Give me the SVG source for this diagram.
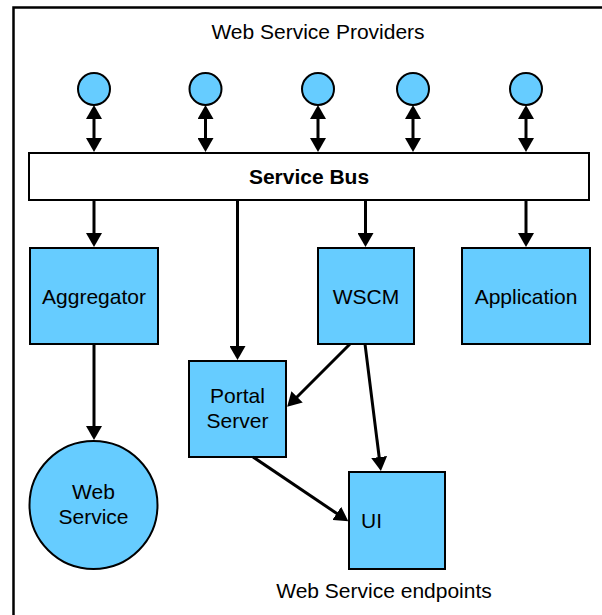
<svg xmlns="http://www.w3.org/2000/svg" width="602" height="615" viewBox="0 0 602 615">
  <style>
    .label { font-family: "Liberation Sans", Arial, sans-serif; font-size: 21px; fill: #000; text-anchor: middle; }
    .bold { font-weight: bold; }
    .node { fill: #66CCFF; stroke: #000; stroke-width: 2; }
    .bus { fill: #fff; stroke: #000; stroke-width: 2; }
    .edge { fill: none; stroke: #000; stroke-width: 3; }
  </style>
  <defs>
    <marker id="head" markerUnits="userSpaceOnUse" markerWidth="15" markerHeight="16" refX="10" refY="8" orient="auto-start-reverse" viewBox="0 0 15 16">
      <path d="M0,0 L14,8 L0,16 Z" fill="#000"/>
    </marker>
  </defs>

  <rect x="0" y="0" width="602" height="615" fill="#fff"/>

  <!-- outer frame, continues past the right and bottom edges -->
  <rect x="13.5" y="7.5" width="700" height="700" fill="none" stroke="#000" stroke-width="2.5"/>
  <text class="label" x="318" y="39">Web Service Providers</text>

  <!-- providers -->
  <g id="provider-1"><circle class="node" cx="94" cy="89" r="16"/></g>
  <g id="provider-2"><circle class="node" cx="205.5" cy="89" r="16"/></g>
  <g id="provider-3"><circle class="node" cx="318" cy="89" r="16"/></g>
  <g id="provider-4"><circle class="node" cx="413" cy="89" r="16"/></g>
  <g id="provider-5"><circle class="node" cx="526" cy="89" r="16"/></g>

  <g id="service-bus">
    <rect class="bus" x="29" y="153" width="560" height="47"/>
    <text class="label bold" x="309" y="184">Service Bus</text>
  </g>

  <g id="aggregator">
    <rect class="node" x="30" y="248" width="128" height="96"/>
    <text class="label" x="94" y="304">Aggregator</text>
  </g>
  <g id="wscm">
    <rect class="node" x="318" y="248" width="96" height="96"/>
    <text class="label" x="366" y="304">WSCM</text>
  </g>
  <g id="application">
    <rect class="node" x="462" y="248" width="128" height="96"/>
    <text class="label" x="526" y="304">Application</text>
  </g>
  <g id="portal-server">
    <rect class="node" x="189" y="361" width="97" height="96"/>
    <text class="label" x="237.5" y="403">Portal</text>
    <text class="label" x="237.5" y="428">Server</text>
  </g>
  <g id="ui">
    <rect class="node" x="349" y="472" width="96" height="97"/>
    <text class="label" x="361" y="528" style="text-anchor:start">UI</text>
  </g>
  <g id="web-service">
    <circle class="node" cx="93.5" cy="505" r="64"/>
    <text class="label" x="93.5" y="499">Web</text>
    <text class="label" x="93.5" y="524">Service</text>
  </g>

  <text class="label" x="384" y="598">Web Service endpoints</text>

  <g id="connectors">
    <!-- provider to bus, both directions -->
    <line class="edge" x1="94" y1="109" x2="94" y2="148" marker-start="url(#head)" marker-end="url(#head)"/>
    <line class="edge" x1="205.5" y1="109" x2="205.5" y2="148" marker-start="url(#head)" marker-end="url(#head)"/>
    <line class="edge" x1="318" y1="109" x2="318" y2="148" marker-start="url(#head)" marker-end="url(#head)"/>
    <line class="edge" x1="413" y1="109" x2="413" y2="148" marker-start="url(#head)" marker-end="url(#head)"/>
    <line class="edge" x1="526" y1="109" x2="526" y2="148" marker-start="url(#head)" marker-end="url(#head)"/>
    <!-- bus to consumers -->
    <line class="edge" x1="94" y1="200" x2="94" y2="243" marker-end="url(#head)"/>
    <line class="edge" x1="237.5" y1="200" x2="237.5" y2="356" marker-end="url(#head)"/>
    <line class="edge" x1="365.5" y1="200" x2="365.5" y2="243" marker-end="url(#head)"/>
    <line class="edge" x1="526" y1="200" x2="526" y2="243" marker-end="url(#head)"/>
    <!-- downstream -->
    <line class="edge" x1="94" y1="344" x2="94" y2="436" marker-end="url(#head)"/>
    <line class="edge" x1="350" y1="344" x2="290" y2="404" marker-end="url(#head)"/>
    <line class="edge" x1="365" y1="344" x2="380.4" y2="467" marker-end="url(#head)"/>
    <line class="edge" x1="253" y1="457" x2="345" y2="519" marker-end="url(#head)"/>
  </g>
</svg>
